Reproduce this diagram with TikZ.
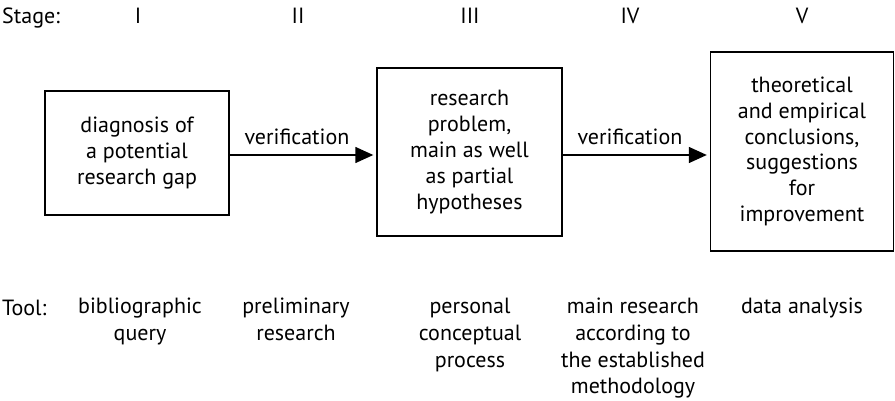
\documentclass[tikz,border=0pt]{standalone}
\usepackage{fontspec}
\setmainfont{PT Sans}
\usetikzlibrary{arrows.meta}
\begin{document}
\begin{tikzpicture}[x=1pt,y=-1pt,
  every node/.style={font=\fontsize{22}{25.8}\selectfont, inner sep=0pt},
  stagebox/.style={draw, line width=1.4pt, align=center},
  flow/.style={line width=1.4pt, -{Triangle[length=18pt,width=16pt]}},
  toolnote/.style={align=center, anchor=north, font=\fontsize{22}{26.7}\selectfont}]
\useasboundingbox (0,0) rectangle (895,401);
% stage labels
\node[anchor=base west] (stagelbl) at (2,24) {Stage:};
\node[anchor=base] (s1) at (138,24) {I};
\node[anchor=base] (s2) at (298,24) {II};
\node[anchor=base] (s3) at (470,24) {III};
\node[anchor=base] (s4) at (630,24) {IV};
\node[anchor=base] (s5) at (802,24) {V};
% boxes
\node[stagebox, minimum width=184pt, minimum height=124pt] (b1) at (137,153)
  {diagnosis of\\a potential\\research gap};
\node[stagebox, minimum width=185pt, minimum height=168pt] (b2) at (469.5,152)
  {research\\problem,\\main as well\\as partial\\hypotheses};
\node[stagebox, minimum width=183pt, minimum height=199pt] (b3) at (802,151.5)
  {theoretical\\and empirical\\conclusions,\\suggestions\\for\\improvement};
% arrows
\draw[flow] (b1.east |- 0,155) -- ([xshift=-3pt]b2.west |- 0,155);
\draw[flow] (b2.east |- 0,155) -- ([xshift=-3pt]b3.west |- 0,155);
\node[anchor=base] (v1) at (297,145) {verification};
\node[anchor=base] (v2) at (630,145) {verification};
% tools
\node[anchor=base west] (toollbl) at (2,315) {Tool:};
\node[toolnote] (t1) at (140,298) {bibliographic\\query};
\node[toolnote] (t2) at (296,298) {preliminary\\research};
\node[toolnote] (t3) at (470,298) {personal\\conceptual\\process};
\node[toolnote] (t4) at (633,298) {main research\\according to\\the established\\methodology};
\node[toolnote] (t5) at (802,298) {data analysis};
\end{tikzpicture}
\end{document}
